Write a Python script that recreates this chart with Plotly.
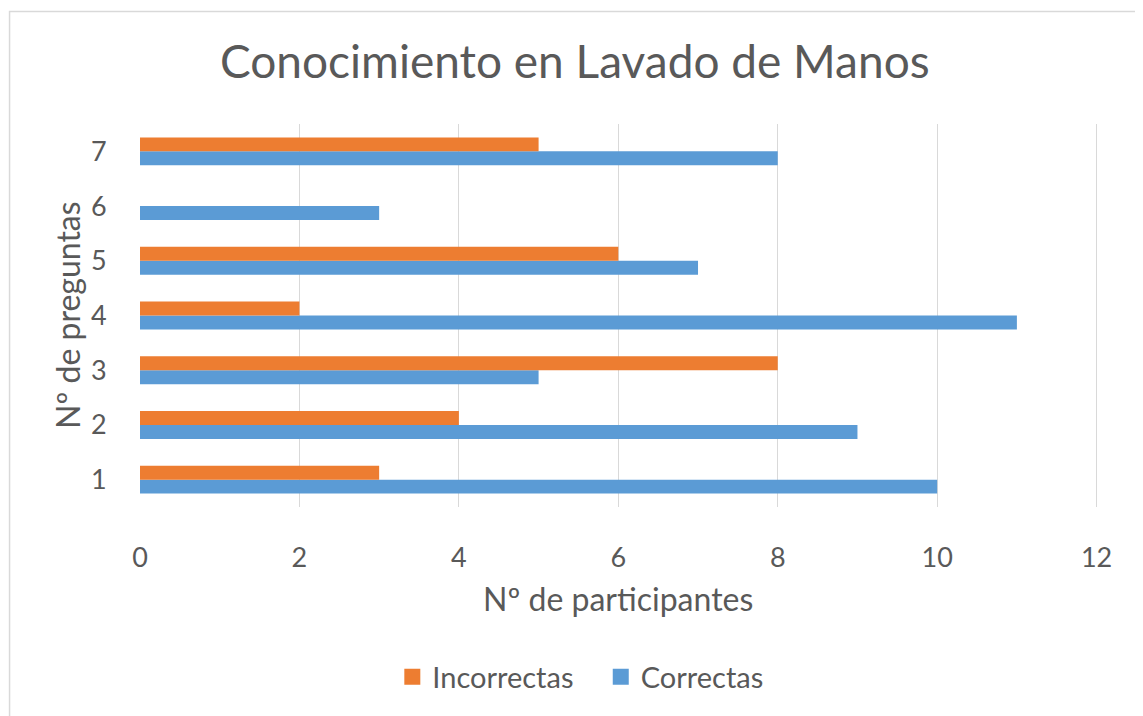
import plotly.graph_objects as go

preguntas = ["1", "2", "3", "4", "5", "6", "7"]
correctas = [10, 9, 5, 11, 7, 3, 8]
incorrectas = [3, 4, 8, 2, 6, 0, 5]
x_ticks = [0, 2, 4, 6, 8, 10, 12]

OFF = 8  # page body margin
W, H = 1143 - OFF, 716 - OFF
X_MAX = 12.03
L, T, B = 140, 124, 507
R = L + 957 * X_MAX / 12
pw, ph = R - L, B - T

def px(x):
    return (x - L) / pw

def py(y):
    return (B - y) / ph

FONT = "Lato"
TXT = "#595959"
BLUE, ORANGE = "#5B9BD5", "#ED7D31"

fig = go.Figure()
fig.add_trace(go.Bar(y=preguntas, x=correctas, orientation="h", name="Correctas",
                     marker=dict(color=BLUE, line=dict(width=0)), showlegend=False))
fig.add_trace(go.Bar(y=preguntas, x=incorrectas, orientation="h", name="Incorrectas",
                     marker=dict(color=ORANGE, line=dict(width=0)), showlegend=False))
# legend keys (larger squares like the original)
fig.add_trace(go.Scatter(x=[None], y=[None], mode="markers", name="Correctas",
                         marker=dict(symbol="square", size=18, color=BLUE)))
fig.add_trace(go.Scatter(x=[None], y=[None], mode="markers", name="Incorrectas   ",
                         marker=dict(symbol="square", size=18, color=ORANGE)))

fig.update_layout(
    width=W, height=H,
    margin=dict(l=L - OFF, r=(1143 - R), t=T - OFF, b=(716 - B), autoexpand=False),
    paper_bgcolor="white", plot_bgcolor="white",
    barmode="group", bargap=0.49, bargroupgap=0,
    font=dict(family=FONT, color=TXT, size=29),
    title=dict(text="Conocimiento en Lavado de Manos", x=px(575), xref="paper", xanchor="center",
               y=1 - (62 - OFF) / H, yref="container", yanchor="middle",
               font=dict(size=46, color=TXT, family=FONT)),
    legend=dict(orientation="h", traceorder="reversed", x=px(581), xanchor="center",
                y=py(677), yanchor="middle", font=dict(size=29, color=TXT),
                itemwidth=30),
    xaxis=dict(range=[0, X_MAX], tickvals=x_ticks, showgrid=True, gridcolor="#D9D9D9", gridwidth=1.3,
               zeroline=False, showline=False, ticks="outside", ticklen=27, tickcolor="rgba(0,0,0,0)",
               tickfont=dict(size=27, color=TXT)),
    yaxis=dict(range=[-0.5, 6.5], type="category", showgrid=False, zeroline=False, showline=False,
               ticks="outside", ticklen=27, tickcolor="rgba(0,0,0,0)",
               tickfont=dict(size=27, color=TXT)),
    annotations=[
        dict(text="Nº de participantes", x=px(618), y=py(598), xref="paper", yref="paper",
             showarrow=False, xanchor="center", yanchor="middle", font=dict(size=32, color=TXT)),
        dict(text="Nº de preguntas", x=px(67), y=py(315), xref="paper", yref="paper",
             showarrow=False, xanchor="center", yanchor="middle", textangle=-90,
             font=dict(size=32, color=TXT)),
    ],
    shapes=[dict(type="rect", xref="paper", yref="paper",
                 x0=px(9.5), x1=px(1141.5), y0=py(740), y1=py(11.5),
                 line=dict(color="#D9D9D9", width=1.5), fillcolor="rgba(0,0,0,0)", layer="below")],
)

fig.write_html("out.html")
